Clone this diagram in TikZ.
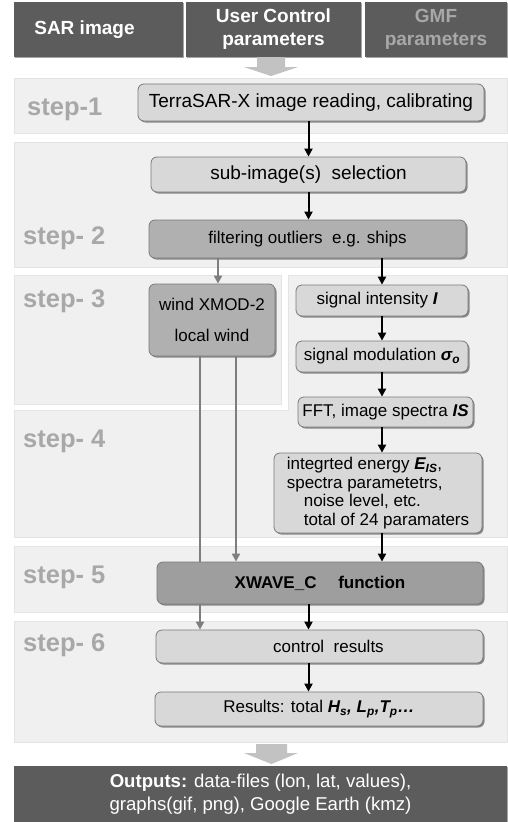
\documentclass[tikz,border=0pt]{standalone}
\usepackage{fontspec}
\setmainfont{Liberation Sans}
\usetikzlibrary{arrows.meta,shadows,positioning}

\definecolor{headgray}{HTML}{5C5C5C}
\definecolor{bandgray}{HTML}{F0F0F0}
\definecolor{bandline}{HTML}{E4E4E4}
\definecolor{stepgray}{HTML}{A8A8A8}
\definecolor{boxlight}{HTML}{D8D8D8}
\definecolor{boxmid}{HTML}{B0B0B0}
\definecolor{boxdark}{HTML}{9E9E9E}
\definecolor{boxline}{HTML}{7A7A7A}
\definecolor{sidegray}{HTML}{7E7E7E}
\definecolor{fatgray}{HTML}{C2C2C2}

\begin{document}
\begin{tikzpicture}[x=1pt,y=-1pt,
header/.style={rectangle, fill=headgray, text=white, align=center, inner sep=0pt,
  font=\fontsize{19}{23}\selectfont\bfseries,
  drop shadow={shadow xshift=1pt, shadow yshift=-1.2pt, fill=black, opacity=0.35}},
band/.style={fill=bandgray, draw=bandline, line width=0.6pt},
steplabel/.style={anchor=west, inner sep=0pt, text=stepgray,
  font=\fontsize{25.5}{28}\selectfont\bfseries},
proc/.style={rectangle, rounded corners=6pt, draw=boxline, line width=0.8pt,
  fill=boxlight, align=center, inner sep=0pt, font=\fontsize{17}{20}\selectfont,
  drop shadow={shadow xshift=1.5pt, shadow yshift=-1.5pt, fill=black!80, opacity=0.55}},
flow/.style={line width=2pt, -{Triangle[length=8pt,width=8pt]}},
sideflow/.style={flow, draw=sidegray},
fatarrow/.style={fill=fatgray}]

%% local variables
\def \bl {14}
\def \br {507}

\useasboundingbox (0,0) rectangle (507,822);

%% step bands
\fill[band] (\bl,78) rectangle (\br,133);
\fill[band] (\bl,142) rectangle (\br,267);
\fill[band] (\bl,275) rectangle (281,404);
\fill[band] (288,275) -- (\br,275) -- (\br,537) -- (\bl,537) -- (\bl,410) -- (288,410) -- cycle;
\fill[band] (\bl,546) rectangle (\br,612);
\fill[band] (\bl,621) rectangle (\br,742);

%% step labels
\node[steplabel] (S-1) at (27,109) {step-1};
\foreach \s/\y in {2/238, 3/301, 4/441, 5/577, 6/645}
      \node[steplabel] (S-\s) at (23,\y) {step- \s};

%% inputs on top
\node[header, minimum width=169pt, minimum height=55pt] (sar) at (98.5,29.5) {SAR image\hspace*{28pt}};
\node[header, minimum width=175pt, minimum height=55pt] (user) at (273.5,29.5) {User Control\\parameters};
\node[header, minimum width=142pt, minimum height=55pt, text=stepgray] (gmf) at (436,29.5) {GMF\\parameters};

%% fat arrows in and out
\fill[fatarrow] (257,57) -- (285,57) -- (285,67) -- (298,67) -- (271,76)
      -- (244,67) -- (257,67) -- cycle;
\fill[fatarrow] (256,744) -- (287,744) -- (287,753) -- (298,753) -- (271.5,764)
      -- (244,753) -- (256,753) -- cycle;

%% processing boxes
\node[proc, minimum width=346pt, minimum height=37pt,
      font=\fontsize{19}{20}\selectfont] (read) at (311,102.5)
      {TerraSAR-X image reading, calibrating};
\node[proc, minimum width=315pt, minimum height=35pt,
      font=\fontsize{19}{20}\selectfont] (sub) at (308.5,174.5)
      {sub-image(s)\ \ selection};
\node[proc, minimum width=317pt, minimum height=38pt, fill=boxmid] (filt) at (307.5,239)
      {filtering outliers\ \ e.g. ships};
\node[proc, minimum width=126pt, minimum height=72pt, fill=boxmid] (wind) at (212,320)
      {wind XMOD-2\\[11pt]local wind};
\node[proc, minimum width=172pt, minimum height=31pt] (sig) at (382,300.5)
      {signal intensity \textbf{\textit{I}}\ \ };
\node[proc, minimum width=172pt, minimum height=31pt] (mod) at (382,356.5)
      {signal modulation \textbf{\textit{σ\textsubscript{o}}}};
\node[proc, minimum width=175pt, minimum height=30pt] (fft) at (385.5,412)
      {FFT, image spectra \textbf{\textit{IS}}};
\node[proc, minimum width=208pt, minimum height=80pt, align=left,
      font=\fontsize{17}{18.4}\selectfont] (energy) at (378,493)
      {integrted energy \textbf{\textit{E\textsubscript{IS}}},\\
       spectra parametetrs,\\
       \hspace*{17pt}noise level, etc.\\
       \hspace*{17pt}total of 24 paramaters};
\node[proc, minimum width=326pt, minimum height=42pt, fill=boxdark,
      font=\fontsize{17}{20}\selectfont\bfseries] (xwave) at (320,583)
      {XWAVE\_C\quad\ function};
\node[proc, minimum width=327pt, minimum height=33pt] (ctrl) at (319.5,646.5)
      {\hspace*{18pt}control\ \ results};
\node[proc, minimum width=328pt, minimum height=34pt] (res) at (319,709)
      {Results: total \textbf{\textit{H\textsubscript{s}, L\textsubscript{p},T\textsubscript{p}…}}};

%% outputs
\node[header, minimum width=493pt, minimum height=56pt,
      font=\fontsize{18.6}{23}\selectfont] (out) at (260.5,794)
      {\textbf{Outputs:} data-files (lon, lat, values),\\graphs(gif, png), Google Earth (kmz)};

%% main flow
\draw[flow] (sub.north |- read.south) -- (sub.north);
\draw[flow] (sub.south) -- (sub.south |- filt.north);
\draw[flow] (filt.south -| sig.north) -- (sig.north);
\draw[flow] (sig.south) -- (mod.north);
\draw[flow] (mod.south) -- (fft.north -| mod.south);
\draw[flow] (fft.south -| mod.south) -- (energy.north -| mod.south);
\draw[flow] (energy.south -| mod.south) -- (xwave.north -| mod.south);
\draw[flow] (xwave.south -| sub.south) -- (ctrl.north -| sub.south);
\draw[flow] (ctrl.south -| sub.south) -- (res.north -| sub.south);

%% wind branch
\draw[sideflow] (filt.south -| wind.north) ++(6,0) coordinate (windin) -- (windin |- wind.north);
\draw[sidegray, line width=2pt] ([xshift=-12pt]wind.south) -- ([xshift=-12pt]wind.south |- xwave.north);
\draw[sideflow] ([xshift=-12pt]wind.south |- xwave.south) -- ([xshift=-12pt]wind.south |- ctrl.north);
\draw[sideflow] ([xshift=24pt]wind.south) -- ([xshift=24pt]wind.south |- xwave.north);

\end{tikzpicture}
\end{document}
